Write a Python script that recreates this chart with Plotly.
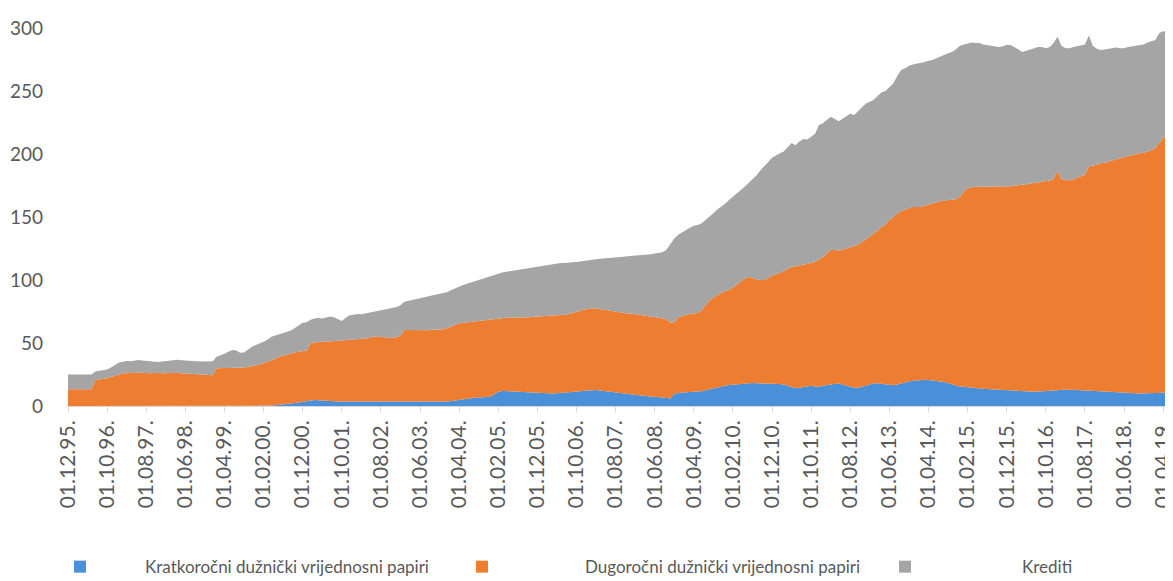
import pandas as pd
import plotly.graph_objects as go

# Monthly categories: 01.12.95. ... 01.06.19.
months = pd.date_range("1995-12-01", periods=283, freq="MS")
categories = [d.strftime("%d.%m.%y.") for d in months]
tick_labels = categories[::10]

series_names = ["Kratkoročni dužnički vrijednosni papiri",
                "Dugoročni dužnički vrijednosni papiri",
                "Krediti"]

# Short-term debt securities (Dec 1995 .. Jun 2019)
kratkorocni = (
    [0]
    + [0] * 12                                   # 1996
    + [0] * 12                                   # 1997
    + [0] * 12                                   # 1998
    + [0] * 12                                   # 1999
    + [0, 0, 0, 0.3, 0.6, 0.9, 1.2, 1.5, 1.8, 2.2, 2.8, 3.4]          # 2000
    + [3.8, 4.5, 4.8, 4.5, 4.2, 4, 3.8, 3.8, 3.6, 3.6, 3.5, 3.5]      # 2001
    + [3.5, 3.5, 3.6, 3.6, 3.5, 3.5, 3.4, 3.4, 3.5, 3.5, 3.4, 3.4]    # 2002
    + [3.4, 3.3, 3.3, 3.4, 3.5, 3.5, 3.6, 3.6, 3.5, 3.4, 3.4, 3.4]    # 2003
    + [3.6, 4, 4.5, 5, 5.5, 5.8, 6.2, 6.5, 6.8, 7, 7.2, 7.4]          # 2004
    + [9.5, 11.4, 12, 12, 11.8, 11.6, 11.4, 11.2, 11, 10.8, 10.5, 10.2]  # 2005
    + [10, 10, 10, 10, 10.2, 10.4, 10.6, 10.8, 11, 11.4, 11.8, 12.2]  # 2006
    + [12.5, 12.7, 12.7, 12.4, 12, 11.5, 11, 10.5, 10, 9.5, 9.2, 9]   # 2007
    + [8.7, 8.5, 8.2, 8, 7.8, 7.5, 7.2, 6.8, 6.4, 6, 10, 10.5]        # 2008
    + [10.8, 11, 11.2, 11.4, 11.4, 11.8, 12.5, 13.5, 14, 14.5, 15, 16]  # 2009
    + [16.7, 17, 17.5, 17.8, 18, 18, 18.2, 18, 18, 17.5, 17.8, 18]    # 2010
    + [18, 17.5, 17, 16, 15, 14, 14.5, 15, 15.5, 16, 15.5, 15.3]      # 2011
    + [16, 16.5, 17, 17.5, 18, 17, 16, 15, 14.5, 14.5, 15, 16]        # 2012
    + [17, 18, 18, 17.5, 17, 16.5, 16.5, 17, 18, 19, 19.5, 20]        # 2013
    + [20.3, 20.6, 20.8, 20.6, 20.4, 20, 19.5, 19, 18, 17, 16, 15.5]  # 2014
    + [15.2, 15, 14.6, 14.3, 14, 13.7, 13.4, 13.2, 13, 12.7, 12.5, 12.3]  # 2015
    + [12.2, 12, 11.8, 11.6, 11.5, 11.5, 11.4, 11.5, 11.6, 11.8, 12, 12.2]  # 2016
    + [12.5, 12.8, 13, 13, 12.8, 12.6, 12.4, 12.2, 12, 11.8, 11.6, 11.4]  # 2017
    + [11.2, 11, 10.8, 10.6, 10.5, 10.4, 10.3, 10.2, 10.1, 10, 10, 10]  # 2018
    + [10.2, 10.4, 10.5, 10.5, 10.6, 10.6]                            # 2019
)

# Long-term debt securities
dugorocni = (
    [13.2]
    + [13.2, 13.2, 13.2, 13.2, 13.2, 13.2, 20.6, 21, 21.5, 22, 23, 24]    # 1996
    + [25.5, 26, 26, 26.3, 26.5, 26.5, 26.3, 26, 26, 26.2, 26, 25.8]      # 1997
    + [26, 26.2, 26.5, 26.3, 26, 25.8, 25.5, 25.3, 25, 24.8, 24.6, 24.6]  # 1998
    + [24.5, 30, 30, 30.2, 30, 30.5, 30.5, 30.3, 30.5, 31, 31.5, 32]      # 1999
    + [33, 34, 35, 36.2, 36.9, 38.1, 38.8, 39.5, 40.2, 40.3, 40.2, 40.1]  # 2000
    + [40.2, 45.5, 45.7, 46.5, 46.8, 47, 47.4, 47.7, 48.2, 48.4, 48.7, 48.9]  # 2001
    + [49.1, 49.5, 49.6, 49.9, 50.5, 51.5, 51.6, 51.6, 51, 50.5, 50.6, 51.1]  # 2002
    + [52.6, 57, 57, 56.8, 56.5, 56.5, 56.4, 56.6, 57, 57.3, 57.6, 57.6]  # 2003
    + [58.4, 59.5, 60, 60.6, 60.5, 60.5, 60.3, 60.5, 60.2, 60.5, 60.8, 61.1]  # 2004
    + [59.5, 58.1, 57.8, 58, 58.2, 58.4, 58.6, 58.8, 59.3, 59.7, 60.3, 60.8]  # 2005
    + [61, 61.2, 61.5, 61.8, 61.8, 61.6, 61.9, 62.2, 63, 63.6, 64.2, 64.3]  # 2006
    + [64.5, 64.8, 64.8, 64.6, 64.5, 64.5, 64.5, 64.5, 64, 64.3, 64.3, 64.5]  # 2007
    + [64.3, 64, 63.8, 64, 63.7, 63.5, 63.3, 63.2, 62.6, 60, 56.5, 60]    # 2008
    + [60.7, 61, 61.8, 62.1, 62.4, 64.2, 67.5, 70.5, 72, 73.5, 74.6, 75]  # 2009
    + [75.3, 77, 79, 81.2, 83, 84.6, 83.3, 82.5, 82, 82.5, 83.7, 85.5]    # 2010
    + [86.5, 88, 90, 93, 95.6, 97, 97, 97, 97, 97.5, 99, 100.7]           # 2011
    + [102, 104.5, 106.8, 106.3, 105.5, 107, 109, 110.5, 111.9, 113.5, 115, 116.5]  # 2012
    + [117.5, 119, 121, 124.5, 127, 131.1, 133.5, 136, 136.5, 137, 137.5, 138]  # 2013
    + [137.7, 137.4, 138.2, 139.4, 140.6, 142, 143, 144, 145.5, 146.5, 148, 150.5]  # 2014
    + [154.8, 157.8, 158.9, 159.7, 160, 160.3, 160.6, 160.8, 161, 161.3, 161.7, 162.2]  # 2015
    + [162.3, 163, 163.2, 163.9, 164.5, 165, 165.3, 165.5, 166.4, 166.7, 167, 167.8]  # 2016
    + [174.5, 167.2, 166.5, 166, 167.2, 168.4, 169.6, 171.3, 178, 178.7, 179.9, 181.2]  # 2017
    + [181.8, 183, 184.2, 185.4, 186, 187.4, 188.2, 188.8, 189.9, 190.5, 191, 191.8]  # 2018
    + [192.8, 194.6, 198, 202, 203.4, 204.4]                               # 2019
)

# Loans
krediti = (
    [11.8]
    + [11.8, 11.8, 11.8, 11.8, 11.8, 11.8, 6.7, 6.8, 6.7, 7, 7.5, 8.5]    # 1996
    + [9, 9.2, 9.8, 9.2, 9.5, 10, 9.9, 9.8, 9.5, 9, 9, 9.5]               # 1997
    + [9.8, 10, 10, 10.5, 10.3, 10.2, 10.3, 10.2, 10.6, 10.6, 10.9, 10.8] # 1998
    + [11.1, 9, 10, 11.3, 13, 13.9, 13.5, 11.9, 12, 14, 15.5, 16.5]       # 1999
    + [16.5, 17, 17.5, 18.5, 18.5, 18, 18, 18, 18, 19.5, 21, 22.5]        # 2000
    + [22.5, 18.5, 19, 19, 18.5, 19.5, 19.8, 19, 17.2, 15.5, 17.8, 19.6]  # 2001
    + [19.9, 20, 19.6, 20, 20.5, 20, 20.5, 21, 22, 23.5, 24, 24]          # 2002
    + [24, 22.5, 23.2, 23.8, 24.5, 25, 25.7, 26.3, 27, 27.3, 27.5, 28.6]  # 2003
    + [28.5, 28.5, 29, 29.1, 30, 30.7, 31.5, 32, 33, 33.5, 34.5, 35]      # 2004
    + [35.5, 36, 36.2, 36.5, 37, 37.5, 38, 38.5, 38.7, 39, 39.2, 39.6]    # 2005
    + [40, 40.3, 40.5, 40.7, 41, 41.5, 41, 41, 40, 39.3, 38.6, 38.5]      # 2006
    + [38.5, 38.5, 38.9, 39.8, 40.5, 41.2, 42, 42.8, 44.2, 44.7, 45.3, 45.5]  # 2007
    + [46.2, 47, 47.8, 48, 49, 50, 51, 52, 55, 63, 66.5, 65.5]            # 2008
    + [66.5, 68, 68.5, 69.5, 69.8, 69, 67.5, 66, 67, 68, 68.4, 69.5]      # 2009
    + [71.5, 72, 72.5, 72.5, 73, 74.4, 78.5, 82.5, 87, 90, 92, 93.5]      # 2010
    + [94.5, 95, 95, 96, 98.1, 96, 98.5, 100, 99, 100.2, 101.5, 107]      # 2011
    + [106.5, 106, 105.8, 104.2, 102.5, 104, 105, 106.5, 104.6, 106, 106.5, 107.5]  # 2012
    + [107, 106, 107, 107, 106, 105.8, 106, 109, 112.2, 112, 113, 113]    # 2013
    + [113.5, 114, 114, 114, 113.6, 114, 115, 116, 116.5, 117.5, 119, 120]  # 2014
    + [117, 115, 115, 114, 114, 113, 112.5, 112, 111, 111, 111.3, 112]    # 2015
    + [112, 110, 108, 105.5, 106, 107, 107.8, 108, 107, 105.5, 106, 108]  # 2016
    + [106, 106, 104.5, 105, 105, 104.5, 104, 103.5, 104, 95.5, 92, 89.9]  # 2017
    + [90, 89.5, 89, 88.5, 87.5, 86.2, 86.5, 86.5, 86, 86, 86, 86.7]      # 2018
    + [86.5, 85.5, 87.5, 85, 83, 81.5]                                     # 2019
)

colors = ["#4A90D9", "#ED7D31", "#A5A5A5"]
font_family = "Lato, 'Open Sans', sans-serif"
text_color = "#595959"

fig = go.Figure()
for name, vals, col in zip(series_names, [kratkorocni, dugorocni, krediti], colors):
    fig.add_trace(go.Scatter(
        x=categories, y=vals, name=name, mode="lines",
        stackgroup="one", line=dict(width=0, color=col),
        fillcolor=col, showlegend=False,
    ))

# The page body adds an 8px offset, so the figure is drawn 8px in from the corner.
fig.update_layout(
    width=1165, height=573,
    margin=dict(l=60, r=2, t=20, b=175, autoexpand=False),
    paper_bgcolor="white", plot_bgcolor="white",
    font=dict(family=font_family, color=text_color),
    xaxis=dict(
        type="category", categoryorder="array", categoryarray=categories,
        range=[0, len(categories) - 1], automargin=False,
        tickmode="array", tickvals=tick_labels, ticktext=tick_labels,
        tickangle=-90, tickfont=dict(size=21, color=text_color),
        ticks="outside", ticklen=5, tickcolor="#D9D9D9",
        showline=True, linecolor="#D9D9D9", linewidth=1,
        showgrid=False, zeroline=False,
    ),
    yaxis=dict(
        range=[0, 300], tickvals=[0, 50, 100, 150, 200, 250, 300],
        automargin=False,
        tickfont=dict(size=19, color=text_color),
        showgrid=False, zeroline=False, showline=False, ticks="",
        ticklabelstandoff=24,
    ),
)

# Legend (manual layout to match the reference spacing)
legend_y = -0.425
legend_items = [
    (series_names[0], colors[0], 74, 143),
    (series_names[1], colors[1], 476, 583),
    (series_names[2], colors[2], 899, 1020),
]
for name, col, sq_px, txt_px in legend_items:
    x0 = (sq_px - 68) / 1103
    x1 = (sq_px + 12 - 68) / 1103
    fig.add_shape(type="rect", xref="paper", yref="paper",
                  x0=x0, x1=x1, y0=legend_y - 6 / 378, y1=legend_y + 6 / 378,
                  fillcolor=col, line=dict(width=0))
    fig.add_annotation(text=name, xref="paper", yref="paper",
                       x=(txt_px - 68) / 1103, y=legend_y,
                       xanchor="left", yanchor="middle", showarrow=False,
                       font=dict(size=17, color=text_color, family=font_family))

fig.write_html("out.html")
